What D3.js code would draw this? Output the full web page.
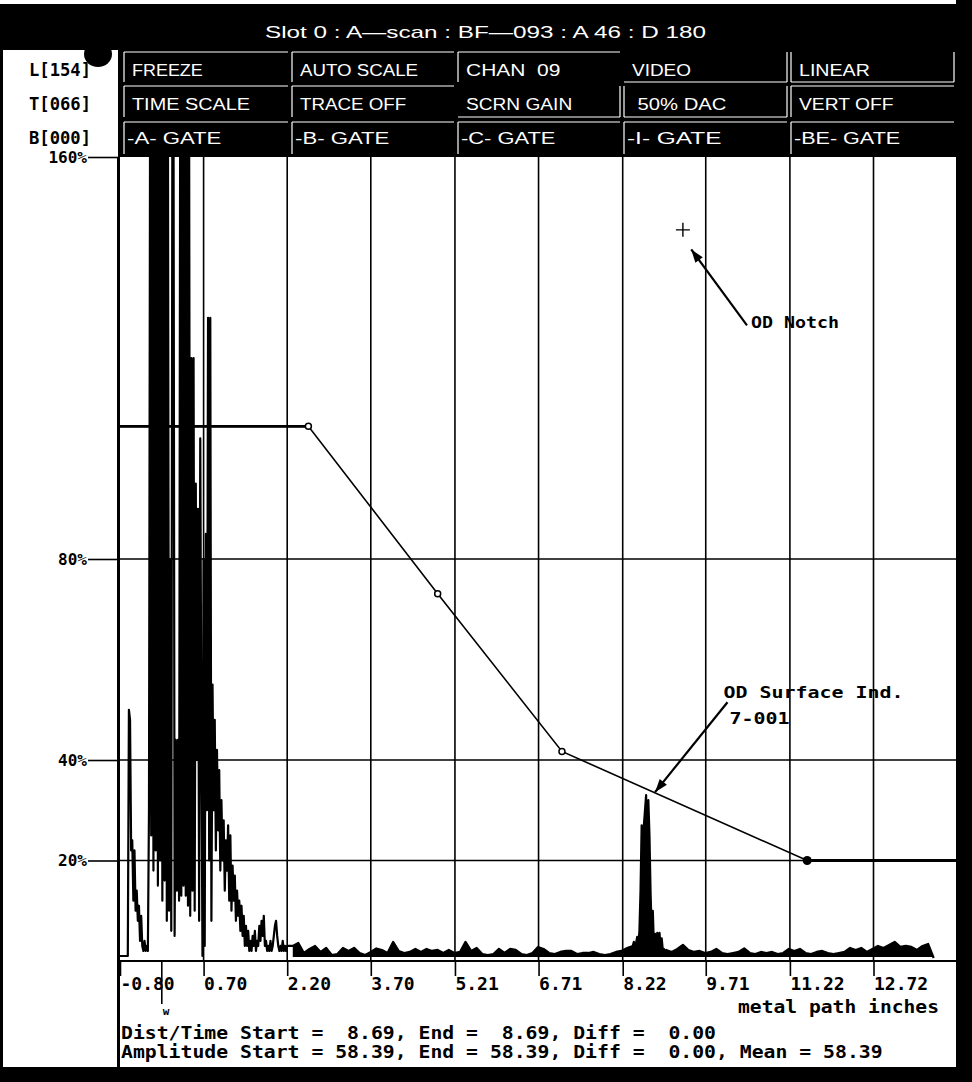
<!DOCTYPE html>
<html>
<head>
<meta charset="utf-8">
<script src="https://cdn.jsdelivr.net/npm/d3@7"></script>
<style>
body { margin: 0; background: #fff; }
text { white-space: pre; }
</style>
</head>
<body>
<script>
// ---- axis ticks ----
var xTicks = [-0.80, 0.70, 2.20, 3.70, 5.21, 6.71, 8.22, 9.71, 11.22, 12.72];
var xTickLabels = ["-0.80", "0.70", "2.20", "3.70", "5.21", "6.71", "8.22", "9.71", "11.22", "12.72"];
var yTicks = [160, 80, 40, 20];
var yGrid = [80, 40, 20];
var gateMark = -0.05;

// ---- DAC curve (metal path in, % screen height) ----
var dacX = [-0.80, 2.58, 4.90, 7.13, 11.53, 14.20];
var dacY = [106.4, 106.4, 73.1, 41.7, 20.0, 20.0];

// ---- A-scan trace ----
// initial pulse / near-surface ringing, every 0.02 in
var burstStart = -0.80, burstStep = 0.02;
var burstAmp = [1, 1, 1, 1, 1, 1, 1, 1, 50, 48,
  22, 24, 12, 22, 10, 14, 8, 11, 4, 9,
  3, 2, 4, 2, 3, 2, 30, 170, 25, 170,
  18, 170, 22, 170, 15, 170, 20, 170, 12, 170,
  16, 170, 8, 170, 10, 80, 6, 170, 170, 5,
  44, 14, 44, 12, 170, 13, 170, 15, 170, 13,
  170, 11, 170, 9, 120, 14, 120, 10, 95, 40,
  90, 8, 104, 45, 1, 80, 3, 85, 30, 128,
  20, 128, 8, 55, 30, 48, 22, 42, 26, 38,
  18, 32, 20, 28, 14, 24, 18, 27, 12, 25,
  10, 19, 12, 17, 8, 14, 9, 12, 6, 11,
  5, 9, 3, 7, 3, 6, 2, 4, 2, 5,
  3, 6, 2, 4, 3, 7, 4, 8, 5, 9,
  3, 4, 2, 3, 2, 4, 2, 3, 5, 7,
  8, 5, 3, 2, 3, 2, 4, 2, 3, 2,
  3];
// grass, every 0.1 in
var noiseStep = 0.1;
var noiseAStart = 2.30;
var noiseA = [3.0, 3.6, 1.6, 2.4, 3.0, 1.8, 2.6, 1.2, 1.4, 2.6,
  2.0, 2.6, 1.6, 1.2, 1.8, 2.5, 2.2, 1.6, 3.8, 2.0,
  1.6, 1.8, 2.4, 1.8, 2.4, 2.0, 2.2, 1.6, 2.2, 1.6,
  1.8, 3.8, 2.0, 2.6, 1.4, 1.2, 1.4, 2.4, 1.6, 2.4,
  2.2, 1.4, 1.2, 1.6, 2.8, 2.4, 1.6, 1.4, 1.8, 2.0,
  2.0, 1.4, 1.6, 1.6, 1.8, 1.4, 1.2, 1.4, 1.8, 2.0,
  2.6];
// OD surface echo, every 0.02 in
var echoStart = 8.40, echoStep = 0.02;
var echoAmp = [3.0, 3.8, 2.5, 3.6, 4.8, 3.0, 6.0, 14, 27, 20,
  27, 30, 33, 2, 32, 25, 13.5, 6, 10, 3,
  5.4, 2.0, 5.6, 4.0, 5.6, 3.0, 4.5, 2.0, 2.4, 1.6,
  2.2];
var noiseBStart = 9.10;
var noiseB = [1.8, 2.4, 3.2, 2.2, 1.8, 2.0, 1.6, 1.8, 2.4, 1.6,
  1.4, 1.6, 1.8, 2.5, 1.6, 1.4, 1.8, 1.6, 1.8, 1.4,
  1.6, 2.4, 2.0, 2.4, 1.6, 1.4, 1.8, 2.0, 1.6, 1.4,
  1.6, 1.8, 2.6, 2.2, 2.6, 1.8, 2.4, 3.0, 2.6, 3.2,
  3.8, 2.8, 3.0, 2.8, 2.2, 3.0, 3.4, 0.6];

// ---- screen texts ----
var title = "Slot 0 : A\u2014scan : BF\u2014093 : A 46 : D 180";
var btnRows = [
  ["FREEZE", "AUTO SCALE", "CHAN  09", "VIDEO", "LINEAR"],
  ["TIME SCALE", "TRACE OFF", "SCRN GAIN", " 50% DAC", "VERT OFF"],
  ["-A- GATE", "-B- GATE", "-C- GATE", "-I- GATE", "-BE- GATE"]
];
var levelLabels = ["L[154]", "T[066]", "B[000]"];
var statusLines = ["Dist/Time Start =  8.69, End =  8.69, Diff =  0.00",
  "Amplitude Start = 58.39, End = 58.39, Diff =  0.00, Mean = 58.39"];
var axisTitle = "metal path inches";

// annotations (data coords)
var notchMark = [9.30, 145.5];
var notchArrow = [[10.45, 126.5], [9.45, 141.6]];
var surfArrow = [[10.10, 51.5], [8.80, 33.6]];

var W = 972, H = 1082;
var mono = "'DejaVu Sans Mono', monospace";
var sans = "'Liberation Sans', Arial, sans-serif";
var L = 120, R = 956, T = 157, B = 961;

var x = d3.scaleLinear().domain([-0.80, 12.72]).range([120, 873.5]);
var y = d3.scaleLinear().domain([0, 160]).range([B, T]);

var svg = d3.select("body").append("svg").attr("width", W).attr("height", H);
svg.append("rect").attr("width", W).attr("height", H).attr("fill", "#fff");

var defs = svg.append("defs");
defs.append("clipPath").attr("id", "plotclip").append("rect")
  .attr("x", L).attr("y", T).attr("width", R - L).attr("height", B - T);
defs.append("marker").attr("id", "arrow").attr("viewBox", "0 0 10 10")
  .attr("refX", 10).attr("refY", 5).attr("markerWidth", 7).attr("markerHeight", 6)
  .attr("orient", "auto").attr("markerUnits", "strokeWidth")
  .append("path").attr("d", "M0,1.5L10,5L0,8.5z").attr("fill", "#000");

// grid
svg.append("g").selectAll("line").data(xTicks.slice(1)).enter().append("line")
  .attr("x1", d => x(d)).attr("x2", d => x(d)).attr("y1", T).attr("y2", B)
  .attr("stroke", "#000").attr("stroke-width", 1.6);
svg.append("g").selectAll("line").data(yGrid).enter().append("line")
  .attr("x1", L).attr("x2", R).attr("y1", d => y(d)).attr("y2", d => y(d))
  .attr("stroke", "#000").attr("stroke-width", 1.6);

// trace
function samples(start, step, vals) {
  return vals.map(function (v, i) { return [start + step * i, v]; });
}
var burst = samples(burstStart, burstStep, burstAmp);
var grassA = samples(noiseAStart, noiseStep, noiseA);
var echo = samples(echoStart, echoStep, echoAmp);
var grassB = samples(noiseBStart, noiseStep, noiseB);
var trace = burst.concat(grassA, echo, grassB);
var line = d3.line().x(d => x(d[0])).y(d => y(d[1]));
var area = d3.area().x(d => x(d[0])).y0(y(0.8)).y1(d => y(d[1]));
var plot = svg.append("g").attr("clip-path", "url(#plotclip)");
plot.append("path").datum(grassA.concat(echo, grassB)).attr("d", area).attr("fill", "#000");
plot.append("path").datum(trace).attr("d", line)
  .attr("fill", "none").attr("stroke", "#000").attr("stroke-width", 2.2)
  .attr("stroke-linejoin", "round");

// DAC
var dac = dacX.map((d, i) => [d, dacY[i]]);
plot.append("path").datum(dac).attr("d", line)
  .attr("fill", "none").attr("stroke", "#000").attr("stroke-width", 1.6);
plot.append("path").datum(dac.slice(0, 2)).attr("d", line)
  .attr("fill", "none").attr("stroke", "#000").attr("stroke-width", 2.6);
plot.append("path").datum(dac.slice(4)).attr("d", line)
  .attr("fill", "none").attr("stroke", "#000").attr("stroke-width", 3);
plot.selectAll(".dacpt").data(dac.slice(1, 4)).enter().append("circle")
  .attr("cx", d => x(d[0])).attr("cy", d => y(d[1])).attr("r", 3)
  .attr("fill", "#fff").attr("stroke", "#000").attr("stroke-width", 1.5);
plot.append("circle").attr("cx", x(dac[4][0])).attr("cy", y(dac[4][1])).attr("r", 4.5)
  .attr("fill", "#000");

// x axis
var xAxis = d3.axisBottom(x).tickValues(xTicks)
  .tickFormat((d, i) => xTickLabels[i]).tickSize(15).tickPadding(0);
var gx = svg.append("g").attr("transform", "translate(0," + B + ")").call(xAxis);
gx.select(".domain").remove();
gx.selectAll(".tick line").attr("stroke-width", 1.6);
gx.selectAll(".tick text").attr("text-anchor", "start").attr("x", 0).attr("y", 29)
  .attr("dy", 0).attr("font-family", mono).attr("font-weight", "bold")
  .attr("font-size", 18).attr("fill", "#000");
svg.append("line").attr("x1", 118).attr("x2", R).attr("y1", B).attr("y2", B)
  .attr("stroke", "#000").attr("stroke-width", 2);
svg.append("line").attr("x1", x(gateMark)).attr("x2", x(gateMark))
  .attr("y1", B).attr("y2", 1004).attr("stroke", "#000").attr("stroke-width", 1.6);
svg.append("text").attr("x", x(gateMark) + 1).attr("y", 1015).text("w")
  .attr("font-family", mono).attr("font-weight", "bold").attr("font-size", 11);
svg.append("text").attr("x", 939).attr("y", 1013).attr("text-anchor", "end")
  .attr("font-family", mono).attr("font-weight", "bold").attr("font-size", 18)
  .attr("textLength", 201).attr("lengthAdjust", "spacingAndGlyphs").text(axisTitle);

// y axis
var yAxis = d3.axisLeft(y).tickValues(yTicks).tickFormat(d => d + "%")
  .tickSize(32).tickPadding(1);
var gy = svg.append("g").attr("transform", "translate(" + L + ",0)").call(yAxis);
gy.select(".domain").remove();
gy.selectAll(".tick line").attr("stroke-width", 1.6);
gy.selectAll(".tick text").attr("font-family", mono).attr("font-weight", "bold")
  .attr("font-size", 16).attr("fill", "#000");

// status lines
svg.selectAll(".status").data(statusLines).enter().append("text")
  .attr("x", 121).attr("y", (d, i) => 1039 + i * 19)
  .attr("font-family", mono).attr("font-weight", "bold").attr("font-size", 18)
  .attr("textLength", d => d.length * 11.9).attr("lengthAdjust", "spacingAndGlyphs")
  .text(d => d);

// frame
svg.append("rect").attr("x", 0).attr("y", 4).attr("width", W).attr("height", 46).attr("fill", "#000");
svg.append("rect").attr("x", 118).attr("y", 50).attr("width", W - 118).attr("height", T - 50).attr("fill", "#000");
svg.append("rect").attr("x", R).attr("y", 0).attr("width", W - R).attr("height", H).attr("fill", "#000");
svg.append("rect").attr("x", 0).attr("y", 1067).attr("width", W).attr("height", H - 1067).attr("fill", "#000");
svg.append("rect").attr("x", 0).attr("y", 4).attr("width", 3).attr("height", H).attr("fill", "#000");
svg.append("rect").attr("x", 117).attr("y", T).attr("width", 3).attr("height", 1067 - T).attr("fill", "#000");

svg.append("text").attr("x", 265).attr("y", 38).attr("fill", "#fff")
  .attr("font-family", sans).attr("font-size", 17)
  .attr("textLength", 441).attr("lengthAdjust", "spacingAndGlyphs").text(title);

// buttons
var colX = [124, 292, 458, 624, 791, 958];
var rowY = [[52, 82], [86, 117], [122, 154]];
var rowBase = [76, 110, 143.5];
var edges = [["tl", "tl", "tl", "br", "lbr"], ["tl", "tl", "br", "lbr", "tl"], ["tl", "tl", "tl", "tl", "tl"]];
btnRows.forEach(function (row, r) {
  row.forEach(function (lab, c) {
    var x0 = colX[c], x1 = colX[c + 1] - 4, y0 = rowY[r][0], y1 = rowY[r][1];
    var e = edges[r][c];
    var g = svg.append("g").attr("stroke", "#fff").attr("stroke-width", 1.2);
    if (e.indexOf("t") >= 0) g.append("line").attr("x1", x0).attr("x2", x1).attr("y1", y0).attr("y2", y0);
    if (e.indexOf("l") >= 0) g.append("line").attr("x1", x0).attr("x2", x0).attr("y1", y0).attr("y2", y1);
    if (e.indexOf("b") >= 0) g.append("line").attr("x1", x0).attr("x2", x1).attr("y1", y1).attr("y2", y1);
    if (e.indexOf("r") >= 0) g.append("line").attr("x1", x1).attr("x2", x1).attr("y1", y0).attr("y2", y1);
    var tx = x0 + (lab.charAt(0) === "-" ? 3 : 8);
    svg.append("text").attr("x", tx).attr("y", rowBase[r]).attr("fill", "#fff")
      .attr("font-family", sans).attr("font-size", 16)
      .attr("textLength", lab.length * 11.8).attr("lengthAdjust", "spacingAndGlyphs")
      .text(lab);
  });
});

// level labels
svg.selectAll(".lvl").data(levelLabels).enter().append("text")
  .attr("x", 29).attr("y", (d, i) => rowBase[i])
  .attr("font-family", mono).attr("font-weight", "bold").attr("font-size", 17)
  .attr("textLength", 62).attr("lengthAdjust", "spacingAndGlyphs").text(d => d);
svg.append("ellipse").attr("cx", 98).attr("cy", 54).attr("rx", 14).attr("ry", 13).attr("fill", "#000");

// annotations
var ann = svg.append("g");
ann.append("path").attr("d", "M" + (x(notchMark[0]) - 7) + "," + y(notchMark[1]) + "h14M" + x(notchMark[0]) + "," + (y(notchMark[1]) - 7) + "v14")
  .attr("stroke", "#000").attr("stroke-width", 1.4);
[notchArrow, surfArrow].forEach(function (a) {
  ann.append("line").attr("x1", x(a[0][0])).attr("y1", y(a[0][1]))
    .attr("x2", x(a[1][0])).attr("y2", y(a[1][1]))
    .attr("stroke", "#000").attr("stroke-width", 2.2).attr("marker-end", "url(#arrow)");
});
ann.append("text").attr("x", x(notchArrow[0][0]) + 4).attr("y", y(notchArrow[0][1]) + 3)
  .attr("font-family", mono).attr("font-weight", "bold").attr("font-size", 16)
  .attr("textLength", 88).attr("lengthAdjust", "spacingAndGlyphs").text("OD Notch");
ann.append("text").attr("x", x(surfArrow[0][0]) - 4).attr("y", y(surfArrow[0][1]) - 4)
  .attr("font-family", mono).attr("font-weight", "bold").attr("font-size", 16)
  .attr("textLength", 180).attr("lengthAdjust", "spacingAndGlyphs").text("OD Surface Ind.");
ann.append("text").attr("x", x(surfArrow[0][0]) + 2).attr("y", y(surfArrow[0][1]) + 22)
  .attr("font-family", mono).attr("font-weight", "bold").attr("font-size", 16)
  .attr("textLength", 60).attr("lengthAdjust", "spacingAndGlyphs").text("7-001");
</script>
</body>
</html>
